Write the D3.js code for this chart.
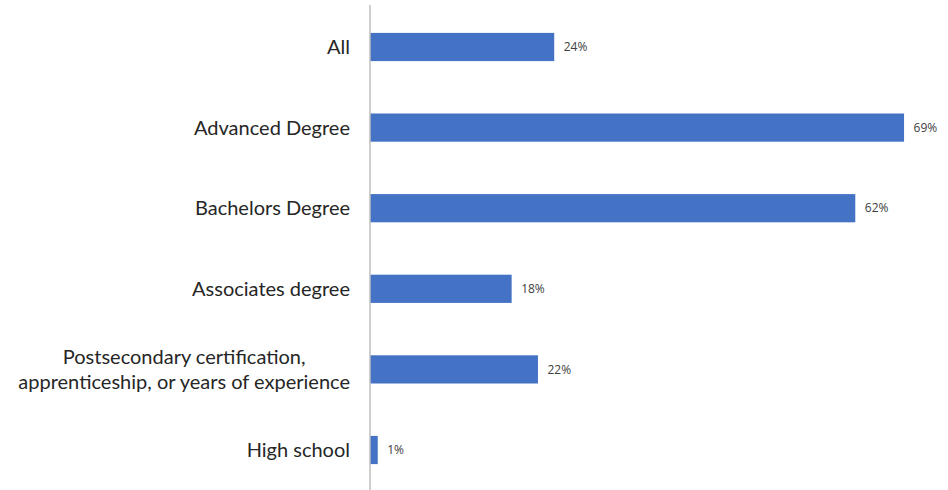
<!DOCTYPE html>
<html><head><meta charset="utf-8">
<script src="https://cdn.jsdelivr.net/npm/d3@7"></script>
<style>body{margin:0;background:#fff}svg{display:block}</style>
</head><body>
<svg id="c" width="948" height="490"></svg>
<script>
const categories = ["All", "Advanced Degree", "Bachelors Degree", "Associates degree", "Postsecondary certification,\napprenticeship, or years of experience", "High school"];
const values = [0.238, 0.69, 0.627, 0.183, 0.217, 0.01];
const valueLabels = ["24%", "69%", "62%", "18%", "22%", "1%"];

const svg = d3.select("#c");
const x0 = 370;
const x = d3.scaleLinear().domain([0, 1]).range([x0, x0 + 774]);
const y = d3.scaleBand().domain(categories).range([6.7, 490.3]).paddingInner(0.65).paddingOuter(0.325);

svg.selectAll("rect.bar").data(categories).join("rect")
  .attr("x", x(0)).attr("y", d => y(d))
  .attr("width", (d, i) => x(values[i]) - x(0))
  .attr("height", y.bandwidth())
  .attr("fill", "#4472C4");

svg.append("line").attr("x1", x0).attr("x2", x0).attr("y1", 5).attr("y2", 490)
  .attr("stroke", "#bfbfbf").attr("stroke-width", 1.5);

svg.selectAll("text.val").data(categories).join("text")
  .attr("x", (d, i) => x(values[i]) + 9.5)
  .attr("y", d => y(d) + y.bandwidth() / 2)
  .attr("dy", "0.35em")
  .attr("font-family", "Open Sans, sans-serif").attr("font-size", 12)
  .attr("fill", "#404040")
  .text((d, i) => valueLabels[i]);

const cat = svg.selectAll("text.cat").data(categories).join("text")
  .attr("font-family", "Lato, sans-serif").attr("font-size", 20)
  .attr("fill", "#262626")
  .attr("transform", d => `translate(350,${y(d) + y.bandwidth() / 2})`);
cat.each(function(d) {
  const lines = d.split("\n");
  const t = d3.select(this);
  const lh = 25;
  const spans = lines.map((l, k) => t.append("tspan")
      .attr("y", (k - (lines.length - 1) / 2) * lh)
      .attr("dy", "0.35em").text(l));
  const widths = spans.map(s => s.node().getComputedTextLength());
  const maxW = Math.max(...widths);
  spans.forEach((s, k) => s.attr("x", -maxW / 2 - widths[k] / 2));
});
</script>
</body></html>
